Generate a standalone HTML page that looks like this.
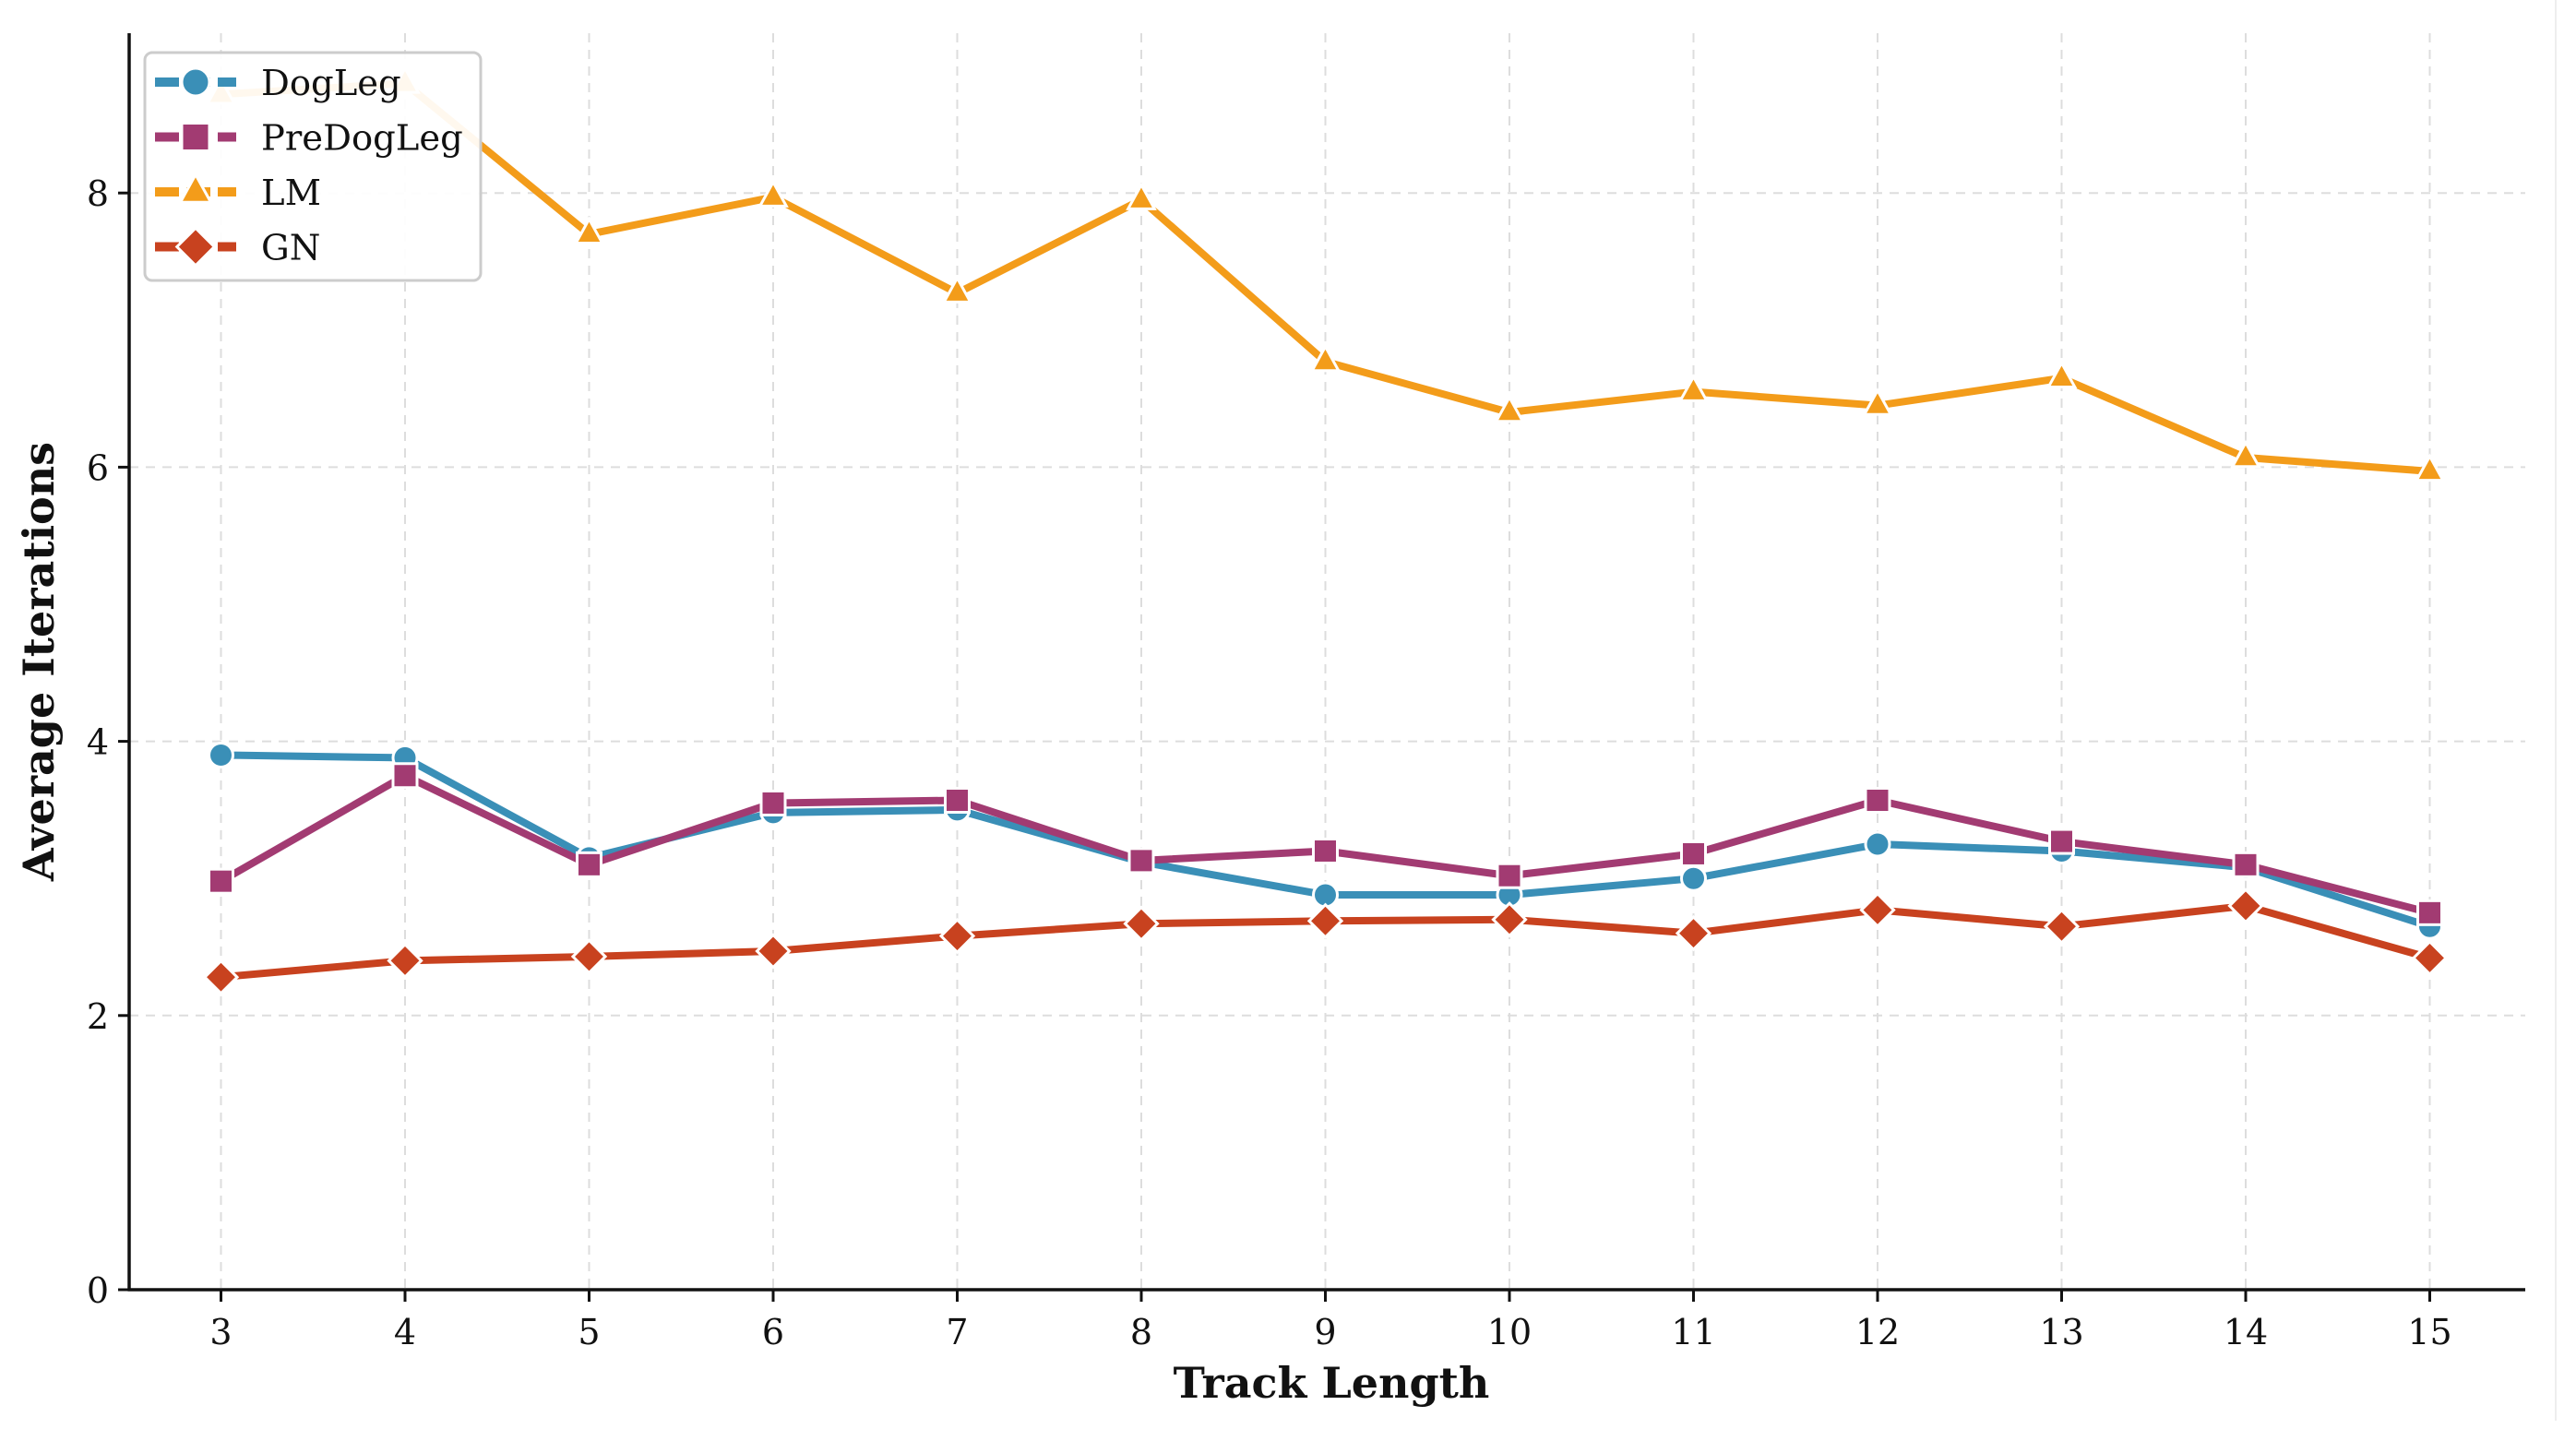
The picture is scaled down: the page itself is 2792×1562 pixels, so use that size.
<!DOCTYPE html>
<html><head><meta charset="utf-8"><style>
html,body{margin:0;padding:0;background:#fff;}
svg{display:block;}
text{font-family:"DejaVu Serif","Liberation Serif",serif;}
</style></head><body>
<svg id="chart" width="2792" height="1562" viewBox="0 0 2792 1562" xmlns="http://www.w3.org/2000/svg">
<g id="grid"></g>
<g id="series"></g>
<g id="axes"></g>
<g id="legend"></g>
</svg>
<script>
const categories = [3,4,5,6,7,8,9,10,11,12,13,14,15];
const dogLeg = [3.9,3.88,3.15,3.48,3.5,3.12,2.88,2.88,3.0,3.25,3.2,3.08,2.65];
const preDogLeg = [2.98,3.75,3.1,3.55,3.57,3.13,3.2,3.02,3.18,3.57,3.27,3.1,2.75];
const lm = [8.72,8.8,7.7,7.97,7.27,7.95,6.77,6.4,6.55,6.45,6.65,6.07,5.97];
const gn = [2.28,2.4,2.43,2.47,2.58,2.67,2.69,2.7,2.6,2.77,2.65,2.8,2.42];
const yTicks = [0,2,4,6,8];
const xTickLabels = ["3","4","5","6","7","8","9","10","11","12","13","14","15"];
const seriesNames = ["DogLeg","PreDogLeg","LM","GN"];

const NS="http://www.w3.org/2000/svg";
const X0=140, X1=2737, Y0=1398, YT=36;
function xs(v){return 239.5+(v-3)*199.5;}
function ys(v){return Y0-v*148.6;}
function mk(tag,attrs,parent){const e=document.createElementNS(NS,tag);for(const k in attrs)e.setAttribute(k,attrs[k]);parent.appendChild(e);return e;}
const grid=document.getElementById('grid'),axes=document.getElementById('axes'),ser=document.getElementById('series'),leg=document.getElementById('legend');

yTicks.forEach(t=>{
  if(t>0){const g=mk('line',{x1:X0,x2:X1,y1:ys(t),y2:ys(t),stroke:'#ddd','stroke-width':2,'stroke-dasharray':'10,8'},grid);
  
  }
  const tk=mk('line',{x1:X0-12,x2:X0,y1:ys(t),y2:ys(t),stroke:'#111','stroke-width':3},axes);
  
  
  const tx=mk('text',{x:X0-22,y:ys(t)+14,'text-anchor':'end','font-size':38,fill:'#111'},axes);
  tx.textContent=t;
  
  
});
categories.forEach((c,i)=>{
  const g=mk('line',{x1:xs(c),x2:xs(c),y1:YT,y2:Y0,stroke:'#ddd','stroke-width':2,'stroke-dasharray':'10,8'},grid);
  
  
  const tk=mk('line',{x1:xs(c),x2:xs(c),y1:Y0,y2:Y0+13,stroke:'#111','stroke-width':3},axes);
  
  
  const tx=mk('text',{x:xs(c),y:1457,'text-anchor':'middle','font-size':38,fill:'#111'},axes);
  tx.textContent=xTickLabels[i];
  
  
});
let a=mk('line',{x1:X0,x2:X0,y1:YT,y2:Y0+1.5,stroke:'#111','stroke-width':3.5},axes);


a=mk('line',{x1:X0-1.5,x2:X1,y1:Y0,y2:Y0,stroke:'#111','stroke-width':3.5},axes);


a=mk('line',{x1:2770,x2:2770,y1:0,y2:1540,stroke:'#eee','stroke-width':2},axes);


let t=mk('text',{x:1443,y:1515,'text-anchor':'middle','font-size':46,'font-weight':'bold',fill:'#111'},axes);
t.textContent='Track Length';


t=mk('text',{x:0,y:0,'text-anchor':'middle','font-size':46,'font-weight':'bold',fill:'#111',transform:'translate(58,717) rotate(-90)'},axes);
t.textContent='Average Iterations';



function marker(type,x,y,color,parent,r){
  let e;
  if(type==='circle') e=mk('circle',{cx:x,cy:y,r:r},parent);
  else if(type==='square') e=mk('rect',{x:x-r,y:y-r,width:2*r,height:2*r},parent);
  else if(type==='triangle') e=mk('polygon',{points:`${x},${y-r*1.25} ${x-r*1.1},${y+r*0.75} ${x+r*1.1},${y+r*0.75}`},parent);
  else e=mk('polygon',{points:`${x},${y-r*1.35} ${x+r*1.35},${y} ${x},${y+r*1.35} ${x-r*1.35},${y}`},parent);
  e.setAttribute('fill',color);e.setAttribute('stroke','#fff');e.setAttribute('stroke-width',3);
  return e;
}
const defs=[
  {name:'dogleg',data:dogLeg,color:'#3a8fb7',m:'circle'},
  {name:'predogleg',data:preDogLeg,color:'#a23b72',m:'square'},
  {name:'lm',data:lm,color:'#f39c1a',m:'triangle'},
  {name:'gn',data:gn,color:'#c8421f',m:'diamond'}
];
defs.forEach(s=>{
  const g=mk('g',{},ser);
  
  
  const pts=categories.map((c,i)=>xs(c)+','+ys(s.data[i])).join(' ');
  const l=mk('polyline',{points:pts,fill:'none',stroke:s.color,'stroke-width':8,'stroke-linejoin':'round'},g);
  
  
  categories.forEach((c,i)=>{
    const m=marker(s.m,xs(c),ys(s.data[i]),s.color,g,13);
    
    
  });
});
// legend
let box=mk('rect',{x:157,y:57,width:364,height:247,rx:8,fill:'#fff','fill-opacity':0.93,stroke:'#ccc','stroke-width':3},leg);


defs.forEach((s,i)=>{
  const y=89+i*59.5;
  const g=mk('g',{},leg);
  
  
  mk('line',{x1:168,x2:256,y1:y,y2:y,stroke:s.color,'stroke-width':10,'stroke-dasharray':'26,8'},g);
  marker(s.m,212,y,s.color,g,15);
  const tx=mk('text',{x:283,y:y+14,'font-size':38.5,fill:'#111'},g);
  tx.textContent=seriesNames[i];
});
</script>
</body></html>
